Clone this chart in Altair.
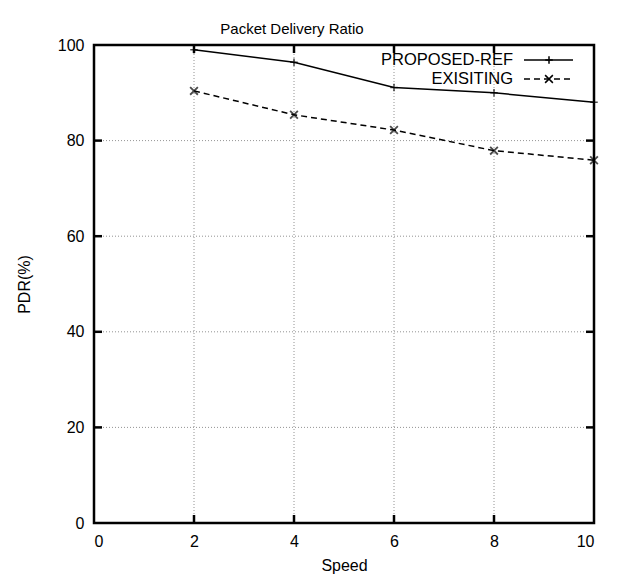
import altair as alt
import pandas as pd

# ---- data ----
speed = [2, 4, 6, 8, 10]
proposed = [99.0, 96.4, 91.1, 90.0, 88.0]
existing = [90.4, 85.4, 82.2, 77.9, 75.9]
series_names = ["PROPOSED-REF", "EXISITING"]
x_ticks = [0, 2, 4, 6, 8, 10]
y_ticks = [0, 20, 40, 60, 80, 100]
x_inner = [2, 4, 6, 8]
y_inner = [20, 40, 60, 80]

W, H = 500, 478
FONT = "Liberation Sans"
PLUS = "M-1,0L1,0M0,-1L0,1"
CROSS = "M-1,-1L1,1M-1,1L1,-1"

df_p = pd.DataFrame({"speed": speed, "pdr": proposed, "series": series_names[0]})
df_e = pd.DataFrame({"speed": speed, "pdr": existing, "series": series_names[1]})
df_xi = pd.DataFrame({"x": x_inner})
df_yi = pd.DataFrame({"y": y_inner})
df_one = pd.DataFrame({"a": [0]})

xs = alt.Scale(domain=[0, 10], nice=False, zero=False)
ys = alt.Scale(domain=[0, 100], nice=False, zero=False)

x_axis = alt.Axis(values=x_ticks, grid=False, domain=False, ticks=False,
                  labelPadding=10, labelFontSize=16, labelFont=FONT, labelColor="black",
                  title="Speed", titleFontSize=16, titleFont=FONT, titleFontWeight="normal",
                  titleColor="black", titlePadding=8, format="d")
y_axis = alt.Axis(values=y_ticks, grid=False, domain=False, ticks=False,
                  labelPadding=10, labelFontSize=16, labelFont=FONT, labelColor="black",
                  title="PDR(%)", titleFontSize=16, titleFont=FONT, titleFontWeight="normal",
                  titleColor="black", titlePadding=25, format="d")

# base axes layer (invisible points carry the axes)
base = alt.Chart(df_p).mark_point(opacity=0).encode(
    x=alt.X("speed:Q", scale=xs, axis=x_axis),
    y=alt.Y("pdr:Q", scale=ys, axis=y_axis),
)

grid_style = dict(color="#777777", strokeWidth=0.8, strokeDash=[1, 2])
vgrid = alt.Chart(df_xi).mark_rule(**grid_style).encode(
    x=alt.X("x:Q", scale=xs), y=alt.value(0), y2=alt.value(H))
hgrid = alt.Chart(df_yi).mark_rule(**grid_style).encode(
    y=alt.Y("y:Q", scale=ys), x=alt.value(0), x2=alt.value(W))

tick_style = dict(color="black", strokeWidth=2.5)
TL = 8
tb = alt.Chart(df_xi).mark_rule(**tick_style).encode(
    x=alt.X("x:Q", scale=xs), y=alt.value(H), y2=alt.value(H - TL))
tt = alt.Chart(df_xi).mark_rule(**tick_style).encode(
    x=alt.X("x:Q", scale=xs), y=alt.value(0), y2=alt.value(TL))
tl = alt.Chart(df_yi).mark_rule(**tick_style).encode(
    y=alt.Y("y:Q", scale=ys), x=alt.value(0), x2=alt.value(TL))
tr = alt.Chart(df_yi).mark_rule(**tick_style).encode(
    y=alt.Y("y:Q", scale=ys), x=alt.value(W), x2=alt.value(W - TL))

line_p = alt.Chart(df_p).mark_line(color="black", strokeWidth=1.5).encode(
    x=alt.X("speed:Q", scale=xs), y=alt.Y("pdr:Q", scale=ys))
pts_p = alt.Chart(df_p).mark_point(shape=PLUS, size=56, color="black", strokeWidth=1.5,
                                   filled=False).encode(
    x=alt.X("speed:Q", scale=xs), y=alt.Y("pdr:Q", scale=ys))
line_e = alt.Chart(df_e).mark_line(color="black", strokeWidth=1.5, strokeDash=[6, 4]).encode(
    x=alt.X("speed:Q", scale=xs), y=alt.Y("pdr:Q", scale=ys))
pts_e = alt.Chart(df_e).mark_point(shape=CROSS, size=60, color="black", strokeWidth=1.8,
                                   filled=False).encode(
    x=alt.X("speed:Q", scale=xs), y=alt.Y("pdr:Q", scale=ys))

# legend (manual, gnuplot style: text then sample)
LX_TEXT, LX0, LX1, LXM = 419, 430, 479, 455
LY = [15, 34]
leg = []
for i, name in enumerate(series_names):
    leg.append(alt.Chart(df_one).mark_text(align="right", baseline="middle", font=FONT,
                                           fontSize=16.5, color="black", text=name).encode(
        x=alt.value(LX_TEXT), y=alt.value(LY[i])))
    rule_kw = dict(color="black", strokeWidth=1.5)
    if i == 1:
        rule_kw["strokeDash"] = [6, 4]
    leg.append(alt.Chart(df_one).mark_rule(**rule_kw).encode(
        x=alt.value(LX0), x2=alt.value(LX1), y=alt.value(LY[i])))
    leg.append(alt.Chart(df_one).mark_point(shape=PLUS if i == 0 else CROSS,
                                            size=56 if i == 0 else 60, color="black",
                                            strokeWidth=1.5, filled=False, opacity=1).encode(
        x=alt.value(LXM), y=alt.value(LY[i])))

border = alt.Chart(df_one).mark_rect(fill=None, stroke="black", strokeWidth=2.5).encode(
    x=alt.value(0), x2=alt.value(W), y=alt.value(0), y2=alt.value(H))

chart = alt.layer(base, vgrid, hgrid, line_p, pts_p, line_e, pts_e, tb, tt, tl, tr, border, *leg).properties(
    width=W, height=H,
    title=alt.TitleParams(text="Packet Delivery Ratio", font=FONT, fontSize=15,
                          fontWeight="normal", color="black", anchor="middle",
                          dx=-52, offset=0),
    autosize=alt.AutoSizeParams(type="none"),
    padding={"left": 86, "top": 37, "right": 10, "bottom": 53},
).configure_view(stroke=None).configure(background="white")

chart.save("out.html", embed_options={"renderer": "svg", "actions": False})
